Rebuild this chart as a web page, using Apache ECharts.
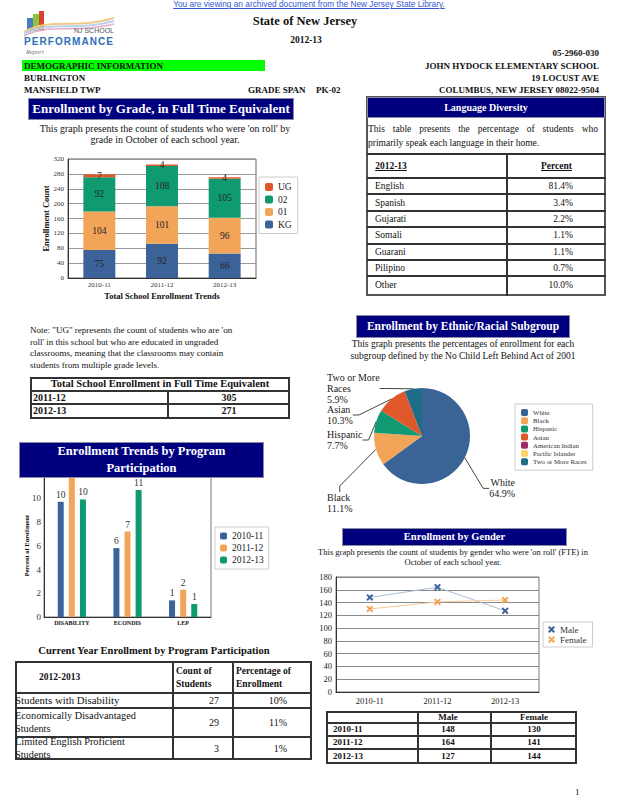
<!DOCTYPE html>
<html><head><meta charset="utf-8"><title>NJ School Performance Report</title>
<script src="https://cdn.jsdelivr.net/npm/echarts@6/dist/echarts.min.js"></script>
<style>
html,body{margin:0;padding:0}
body{width:618px;height:800px;position:relative;overflow:hidden;background:#fff;font-family:"Liberation Serif","Times New Roman",serif;color:#111}
.ch{position:absolute;z-index:1}
</style></head><body>
<div id="gradeChart" class="ch" style="left:10px;top:150px;width:300px;height:160px"></div>
<div id="programChart" class="ch" style="left:0px;top:470px;width:280px;height:165px"></div>
<div id="ethnicChart" class="ch" style="left:320px;top:365px;width:298px;height:160px"></div>
<div id="genderChart" class="ch" style="left:315px;top:570px;width:303px;height:140px"></div>
<script>
// ---------------- data ----------------
const gradeYears = ['2010-11', '2011-12', '2012-13'];
const gradeKG = [75, 92, 66];
const grade01 = [104, 101, 96];
const grade02 = [92, 108, 105];
const gradeUG = [7, 4, 4];

const programCats = ['DISABILITY', 'ECONDIS', 'LEP'];
const programYears = ['2010-11', '2011-12', '2012-13'];
const program2010 = [9.7, 5.8, 1.4];
const program2011 = [11.9, 7.2, 2.3];
const program2012 = [9.9, 10.7, 1.1];

const ethnicNames = ['White', 'Black', 'Hispanic', 'Asian', 'American Indian', 'Pacific Islander', 'Two or More Races'];
const ethnicPct = [64.9, 11.1, 7.7, 10.3, 0, 0, 5.9];

const genderYears = ['2010-11', '2011-12', '2012-13'];
const genderMale = [148, 164, 127];
const genderFemale = [130, 141, 144];

const languageNames = ['English', 'Spanish', 'Gujarati', 'Somali', 'Guarani', 'Pilipino', 'Other'];
const languagePct = ['81.4%', '3.4%', '2.2%', '1.1%', '1.1%', '0.7%', '10.0%'];

const totalYears = ['2011-12', '2012-13'];
const totalFTE = [305, 271];

const programRowNames = ['Students with Disability', 'Economically Disadvantaged Students', 'Limited English Proficient Students'];
const programCounts = [27, 29, 3];
const programPcts = ['10%', '11%', '1%'];

// ---------------- helpers ----------------
const SERIF = '"Liberation Serif","Times New Roman",serif';
function cell(x, y, w, h, txt, o) {
  o = o || {};
  const d = document.createElement('div');
  const size = o.size || 10;
  const jc = o.align === 'c' ? 'center' : (o.align === 'r' ? 'flex-end' : 'flex-start');
  d.style.cssText = 'position:absolute;left:' + x + 'px;top:' + y + 'px;width:' + w + 'px;height:' + h + 'px;' +
    'display:flex;align-items:center;box-sizing:border-box;justify-content:' + jc + ';' +
    'text-align:' + (o.align === 'c' ? 'center' : (o.align === 'r' ? 'right' : 'left')) + ';' +
    'font-size:' + size + 'px;line-height:' + (o.lh || size * 1.15) + 'px;' +
    'padding:0 ' + (o.pr || 0) + 'px 0 ' + (o.pl || 0) + 'px;' +
    (o.bold ? 'font-weight:bold;' : '') + (o.italic ? 'font-style:italic;' : '') +
    (o.color ? 'color:' + o.color + ';' : '') + (o.ul ? 'text-decoration:underline;' : '') +
    (o.bg ? 'background:' + o.bg + ';' : '') + (o.wrap ? '' : 'white-space:nowrap;') +
    (o.family ? 'font-family:' + o.family + ';' : '') +
    'z-index:' + (o.z || 3) + ';';
  d.textContent = txt;
  document.body.appendChild(d);
  return d;
}
function rect(x, y, w, h, css) {
  const d = document.createElement('div');
  d.style.cssText = 'position:absolute;left:' + x + 'px;top:' + y + 'px;width:' + w + 'px;height:' + h + 'px;box-sizing:border-box;' + css;
  document.body.appendChild(d);
  return d;
}
function hline(x1, x2, y, c) { rect(x1, y - 1, x2 - x1, 2, 'background:' + (c || '#333') + ';z-index:2'); }
function vline(x, y1, y2, c) { rect(x - 1, y1, 2, y2 - y1, 'background:' + (c || '#333') + ';z-index:2'); }
function navy(x, y, w, h, lines, size) {
  rect(x, y, w, h, 'background:#00007f;z-index:5;box-shadow:0 0 0 1px #8a8aa0');
  const lh = h / lines.length;
  lines.forEach((t, i) => cell(x, y + i * lh, w, lh, t, {align: 'c', size: size, bold: true, color: '#fff', z: 6}));
}

// ---------------- page header ----------------
cell(0, 0, 618, 10, 'You are viewing an archived document from the New Jersey State Library.', {align: 'c', size: 8.3, family: '"Liberation Sans",Arial,sans-serif', color: '#3557d4', ul: true});
(function logo() {
  const s = document.createElementNS('http://www.w3.org/2000/svg', 'svg');
  s.setAttribute('width', '95'); s.setAttribute('height', '46');
  s.style.cssText = 'position:absolute;left:20px;top:11px;z-index:2';
  s.innerHTML =
    '<rect x="7" y="7" width="6" height="13" fill="#4a7dc0"/>' +
    '<rect x="13" y="3" width="6" height="17" fill="#8cc63f"/>' +
    '<rect x="19" y="0" width="5" height="20" fill="#d9442b"/>' +
    '<path d="M4 21 C30 6, 55 19, 94 7" stroke="#f3c98b" stroke-width="2" fill="none"/>' +
    '<path d="M4 23 C30 9, 55 21, 94 10" stroke="#b9d3ee" stroke-width="2" fill="none"/>' +
    '<path d="M4 25 C30 12, 55 23, 94 13" stroke="#e7b0c8" stroke-width="1.5" fill="none"/>' +
    '<text x="94" y="22" text-anchor="end" font-family="Liberation Sans,Arial" font-size="7" fill="#555">NJ SCHOOL</text>' +
    '<text x="4" y="34" font-family="Liberation Sans,Arial" font-weight="bold" font-size="10" fill="#2f6fb7" textLength="89">PERFORMANCE</text>' +
    '<text x="6" y="43" font-family="Liberation Serif,serif" font-style="italic" font-size="6.5" fill="#777">Report</text>';
  document.body.appendChild(s);
})();
cell(0, 14, 610, 14, 'State of New Jersey', {align: 'c', size: 12.5, bold: true});
cell(0, 34, 612, 12, '2012-13', {align: 'c', size: 9.5, bold: true});
cell(300, 47, 299, 12, '05-2960-030', {align: 'r', size: 9, bold: true});
rect(22, 60, 243, 11, 'background:#00ff00;z-index:2');
cell(24, 60, 240, 12, 'DEMOGRAPHIC INFORMATION', {size: 9, bold: true});
cell(300, 60, 299, 12, 'JOHN HYDOCK ELEMENTARY SCHOOL', {align: 'r', size: 9, bold: true});
cell(24, 72, 200, 12, 'BURLINGTON', {size: 9, bold: true});
cell(300, 72, 299, 12, '19 LOCUST AVE', {align: 'r', size: 9, bold: true});
cell(24, 84, 200, 12, 'MANSFIELD TWP', {size: 9, bold: true});
cell(248, 84, 70, 12, 'GRADE SPAN', {size: 9, bold: true});
cell(316, 84, 40, 12, 'PK-02', {size: 9, bold: true});
cell(300, 84, 299, 12, 'COLUMBUS, NEW JERSEY 08022-9504', {align: 'r', size: 9, bold: true});

// ---------------- enrollment by grade ----------------
navy(29, 99, 264, 20, ['Enrollment by Grade, in Full Time Equivalent'], 13);
cell(20, 123, 290, 12, "This graph presents the count of students who were 'on roll' by", {align: 'c', size: 10});
cell(20, 134, 290, 12, 'grade in October of each school year.', {align: 'c', size: 10});

const noteLines = ["Note: \"UG\" represents the count of students who are 'on", "roll' in this school but who are educated in ungraded",
  'classrooms, meaning that the classrooms may contain', 'students from multiple grade levels.'];
noteLines.forEach((t, i) => cell(30, 324 + i * 11.8, 262, 12, t, {size: 9}));

// total enrollment table
rect(30, 377, 260, 42, 'border:2px solid #333;z-index:2');
hline(30, 290, 391); hline(30, 290, 404);
vline(168, 391, 419);
cell(30, 378, 260, 13, 'Total School Enrollment in Full Time Equivalent', {align: 'c', size: 10.5, bold: true});
totalYears.forEach((y, i) => {
  cell(33, 391 + i * 13.5, 130, 13, y, {size: 10, bold: true});
  cell(168, 391 + i * 13.5, 122, 13, String(totalFTE[i]), {align: 'c', size: 10, bold: true});
});

// ---------------- language diversity ----------------
rect(366, 96, 240, 200, 'border:2px solid #555;z-index:2');
navy(368, 98, 236, 19, ['Language Diversity'], 10);
(function () {
  const d = cell(368, 124, 230, 12, 'This table presents the percentage of students who', {size: 9.5});
  d.style.display = 'block'; d.style.textAlign = 'justify'; d.style.textAlignLast = 'justify'; d.style.whiteSpace = 'normal';
})();
cell(368, 137, 230, 12, 'primarily speak each language in their home.', {size: 9.5});
hline(367, 606, 154);
vline(507, 154, 296);
cell(367, 155, 48, 22, '2012-13', {align: 'c', size: 9.5, bold: true, ul: true});
cell(507, 155, 99, 22, 'Percent', {align: 'c', size: 9.5, bold: true, ul: true});
languageNames.forEach((n, i) => {
  const y0 = 178 + i * 16.4;
  hline(367, 606, y0);
  cell(375, y0 + 1, 120, 15.4, n, {size: 9.5});
  cell(507, y0 + 1, 66, 15.4, languagePct[i], {align: 'r', size: 9.5});
});

// ---------------- program participation ----------------
navy(20, 443, 243, 34, ['Enrollment Trends by Program', 'Participation'], 12.5);
cell(0, 644, 308, 14, 'Current Year Enrollment by Program Participation', {align: 'c', size: 10.5, bold: true});
rect(15, 661, 297, 99, 'border:2px solid #333;z-index:2');
const progRowY = [693, 708, 737, 760];
hline(15, 312, 693); hline(15, 312, 708); hline(15, 312, 737);
vline(173, 661, 760); vline(233, 661, 760);
cell(39, 662, 130, 30, '2012-2013', {size: 9.5, bold: true});
(function () {
  const a = cell(176, 662, 57, 31, 'Count of\nStudents', {size: 9.5, bold: true, lh: 13, wrap: true});
  a.style.whiteSpace = 'pre-line';
  const b = cell(236, 662, 76, 31, 'Percentage of\nEnrollment', {size: 9.5, bold: true, lh: 13, wrap: true});
  b.style.whiteSpace = 'pre-line';
})();
programRowNames.forEach((n, i) => {
  const y0 = progRowY[i], h = progRowY[i + 1] - y0;
  cell(15, y0, 142, h, n, {size: i === 0 ? 10.8 : 10.3, wrap: true, lh: 12.5});
  cell(173, y0, 60, h, String(programCounts[i]), {align: 'r', size: 10, pr: 14});
  cell(233, y0, 79, h, programPcts[i], {align: 'r', size: 10, pr: 25});
});

// ---------------- ethnic ----------------
navy(357, 316, 212, 21, ['Enrollment by Ethnic/Racial Subgroup'], 11.5);
cell(320, 338, 286, 12, 'This graph presents the percentages of enrollment for each', {align: 'c', size: 9.5});
cell(320, 350, 286, 12, 'subgroup defined by the No Child Left Behind Act of 2001', {align: 'c', size: 9.5});

// ---------------- gender ----------------
navy(343, 529, 223, 16, ['Enrollment by Gender'], 10.5);
cell(310, 547, 286, 12, "This graph presents the count of students by gender who were 'on roll' (FTE) in", {align: 'c', size: 8.5});
cell(310, 557, 286, 12, 'October of each school year.', {align: 'c', size: 8.5});
rect(326, 711, 251, 53, 'border:2px solid #333;z-index:2');
const gRowY = [711, 722.5, 735.5, 748.5, 764];
hline(326, 577, 722.5); hline(326, 577, 735.5); hline(326, 577, 748.5);
vline(418, 711, 764); vline(491, 711, 764);
cell(418, 711, 60, 11.5, 'Male', {align: 'c', size: 9, bold: true});
cell(491, 711, 86, 11.5, 'Female', {align: 'c', size: 9, bold: true});
genderYears.forEach((y, i) => {
  const y0 = gRowY[i + 1], h = gRowY[i + 2] - y0;
  cell(333, y0, 80, h, y, {size: 9, bold: true});
  cell(418, y0, 60, h, String(genderMale[i]), {align: 'c', size: 9, bold: true});
  cell(491, y0, 86, h, String(genderFemale[i]), {align: 'c', size: 9, bold: true});
});
cell(575, 786, 10, 12, '1', {size: 9});

// ---------------- charts ----------------
const C_BLUE = '#3c6399', C_ORANGE = '#f2a559', C_GREEN = '#0f9a72', C_RED = '#e0582a';
const txt = {fontFamily: SERIF, color: '#222'};

const gradeChart = echarts.init(document.getElementById('gradeChart'), null, {renderer: 'svg'});
const gradeLabel = {show: true, position: 'inside', fontSize: 9.5, fontFamily: SERIF, color: '#222'};
gradeChart.setOption({
  animation: false,
  textStyle: txt,
  grid: {left: 58, top: 9, width: 188, height: 119, show: true, borderColor: '#666', borderWidth: 1},
  legend: {
    data: ['UG', '02', '01', 'KG'], orient: 'vertical', left: 249, top: 27,
    itemWidth: 8, itemHeight: 8, itemGap: 2.5, padding: [5, 6, 4, 6],
    borderColor: '#ccc', borderWidth: 1, textStyle: {fontFamily: SERIF, fontSize: 9.5, color: '#222'}
  },
  xAxis: {
    type: 'category', data: gradeYears,
    axisLine: {lineStyle: {color: '#333'}}, axisTick: {show: false},
    axisLabel: {fontSize: 7, margin: 3, color: '#333', fontFamily: SERIF},
    name: 'Total School Enrollment Trends', nameLocation: 'middle', nameGap: 13, nameMoveOverlap: false,
    nameTextStyle: {fontSize: 8.5, fontWeight: 'bold', fontFamily: SERIF, color: '#111'}
  },
  yAxis: {
    type: 'value', min: 0, max: 320, interval: 40,
    axisLine: {show: true, lineStyle: {color: '#333'}}, axisTick: {show: false},
    splitLine: {lineStyle: {color: '#999'}},
    axisLabel: {fontSize: 7, margin: 4, color: '#333', fontFamily: SERIF},
    name: 'Enrollment Count', nameLocation: 'middle', nameGap: 18, nameMoveOverlap: false,
    nameTextStyle: {fontSize: 8.5, fontWeight: 'bold', fontFamily: SERIF, color: '#111'}
  },
  series: [
    {name: 'KG', type: 'bar', stack: 'g', data: gradeKG, barWidth: '51%', itemStyle: {color: C_BLUE}, label: gradeLabel},
    {name: '01', type: 'bar', stack: 'g', data: grade01, itemStyle: {color: C_ORANGE}, label: gradeLabel},
    {name: '02', type: 'bar', stack: 'g', data: grade02, itemStyle: {color: C_GREEN}, label: gradeLabel},
    {name: 'UG', type: 'bar', stack: 'g', data: gradeUG, itemStyle: {color: C_RED}, label: gradeLabel}
  ]
});

const PROG_MAX = 12;
const programChart = echarts.init(document.getElementById('programChart'), null, {renderer: 'svg'});
const progLabel = {show: true, position: 'top', distance: 2, fontSize: 9.5, fontFamily: SERIF, color: '#333',
  formatter: p => String(Math.round(p.value))};
// labels of bars that run past the top of the axis are clipped away, as in the original
const progData = arr => arr.map(v => ({value: v, label: {show: v < PROG_MAX - 0.5}}));
programChart.setOption({
  animation: false,
  textStyle: txt,
  grid: {left: 44, top: 4, width: 167, height: 143, show: true, borderColor: '#777', borderWidth: 1},
  legend: {
    data: programYears, orient: 'vertical', left: 215, top: 57,
    itemWidth: 7, itemHeight: 7, itemGap: 2, padding: [4, 5, 4, 5],
    borderColor: '#ccc', borderWidth: 1, textStyle: {fontFamily: SERIF, fontSize: 9.5, color: '#222'}
  },
  xAxis: {
    type: 'category', data: programCats,
    axisLine: {lineStyle: {color: '#333'}}, axisTick: {show: false},
    axisLabel: {fontSize: 6, fontWeight: 'bold', margin: 3, color: '#111', fontFamily: SERIF}
  },
  yAxis: {
    type: 'value', min: 0, max: PROG_MAX, interval: 2,
    axisLine: {show: true, lineStyle: {color: '#333'}}, axisTick: {show: false},
    splitLine: {show: false},
    axisLabel: {fontSize: 9, margin: 3, color: '#333', fontFamily: SERIF},
    name: 'Percent of Enrollment', nameLocation: 'middle', nameGap: 14, nameMoveOverlap: false,
    nameTextStyle: {fontSize: 6.5, fontWeight: 'bold', fontFamily: SERIF, color: '#111'}
  },
  series: [
    {name: programYears[0], type: 'bar', data: progData(program2010), barWidth: 6, barGap: '85%', itemStyle: {color: C_BLUE}, label: progLabel},
    {name: programYears[1], type: 'bar', data: progData(program2011), barWidth: 6, barGap: '85%', itemStyle: {color: C_ORANGE}, label: progLabel},
    {name: programYears[2], type: 'bar', data: progData(program2012), barWidth: 6, barGap: '85%', itemStyle: {color: C_GREEN}, label: progLabel}
  ]
});

const ethnicColors = ['#3a6396', '#f2a559', '#0f9a72', '#e0582a', '#9c2a6a', '#fdd36a', '#1f6b88'];
// vertical nudges of the pie labels (style only)
const ethnicLabelShift = [27, 43, 4, 3, 0, 0, 6];
function wrapName(n) {
  if (n.length <= 12) return n;
  const k = n.lastIndexOf(' ');
  return n.slice(0, k) + '\n' + n.slice(k + 1);
}
const ethnicChart = echarts.init(document.getElementById('ethnicChart'), null, {renderer: 'svg'});
ethnicChart.setOption({
  animation: false,
  textStyle: txt,
  color: ethnicColors,
  legend: {
    data: ethnicNames, orient: 'vertical', left: 195, top: 39,
    itemWidth: 7, itemHeight: 7, itemGap: 1.2, padding: [5, 6, 5, 6],
    borderColor: '#ccc', borderWidth: 1, textStyle: {fontFamily: SERIF, fontSize: 6.8, color: '#333'}
  },
  series: [{
    type: 'pie', left: 5, top: 0, width: 192, height: 160,
    center: [97, 71], radius: 48, startAngle: 90, clockwise: true,
    avoidLabelOverlap: true,
    label: {
      show: true, alignTo: 'edge', edgeDistance: 2, overflow: 'none', fontSize: 10, lineHeight: 11, fontFamily: SERIF, color: '#222',
      formatter: p => wrapName(p.name) + '\n' + p.value.toFixed(1) + '%'
    },
    labelLine: {length: 8, length2: 6, lineStyle: {color: '#444', width: 1}},
    labelLayout: p => ({y: p.labelRect.y + p.labelRect.height / 2 + ethnicLabelShift[p.dataIndex], verticalAlign: 'middle'}),
    data: ethnicNames.map((n, i) => ({
      name: n, value: ethnicPct[i],
      label: {show: ethnicPct[i] > 0}, labelLine: {show: ethnicPct[i] > 0}
    }))
  }]
});

const X_SYMBOL = 'path://M0,2 L2,0 L5,3 L8,0 L10,2 L7,5 L10,8 L8,10 L5,7 L2,10 L0,8 L3,5 Z';
const genderChart = echarts.init(document.getElementById('genderChart'), null, {renderer: 'svg'});
genderChart.setOption({
  animation: false,
  textStyle: txt,
  grid: {left: 21, top: 7, width: 203, height: 115, show: true, borderColor: '#777', borderWidth: 1},
  legend: {
    data: [{name: 'Male', icon: X_SYMBOL}, {name: 'Female', icon: X_SYMBOL}],
    orient: 'vertical', left: 228, top: 52,
    itemWidth: 7, itemHeight: 7, itemGap: 1, padding: [3, 6, 3, 5],
    borderColor: '#ccc', borderWidth: 1, textStyle: {fontFamily: SERIF, fontSize: 9, color: '#333'}
  },
  xAxis: {
    type: 'category', data: genderYears,
    axisLine: {lineStyle: {color: '#333'}}, axisTick: {show: false},
    axisLabel: {fontSize: 8.5, margin: 4, color: '#222', fontFamily: SERIF}
  },
  yAxis: {
    type: 'value', min: 0, max: 180, interval: 20,
    axisLine: {show: true, lineStyle: {color: '#333'}}, axisTick: {show: false},
    splitLine: {lineStyle: {color: '#888'}},
    axisLabel: {fontSize: 8.5, margin: 4, color: '#222', fontFamily: SERIF}
  },
  series: [
    {name: 'Male', type: 'line', data: genderMale, symbol: X_SYMBOL, symbolSize: 7,
      itemStyle: {color: C_BLUE}, lineStyle: {color: '#a9bedb', width: 1}},
    {name: 'Female', type: 'line', data: genderFemale, symbol: X_SYMBOL, symbolSize: 7,
      itemStyle: {color: C_ORANGE}, lineStyle: {color: '#f7c99a', width: 1}}
  ]
});
</script>
</body></html>
